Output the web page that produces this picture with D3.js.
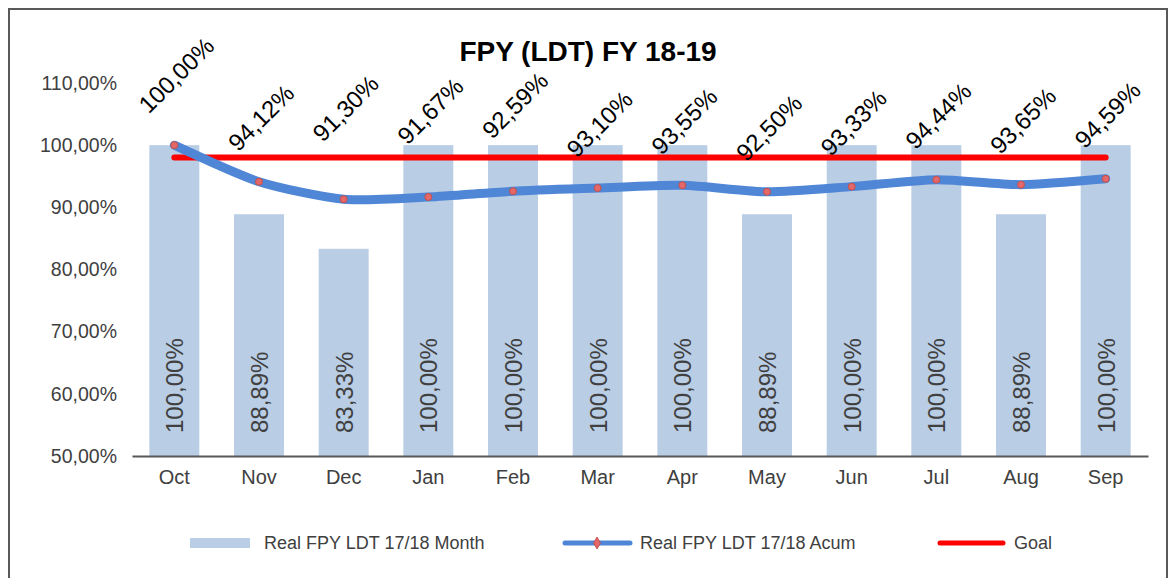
<!DOCTYPE html>
<meta charset="utf-8">
<style>
  body {margin: 0; background: #fff; font-family: "Liberation Sans", Arial, sans-serif;}
</style>
<svg id="chart"></svg>
<script src="https://cdn.jsdelivr.net/npm/d3@7/dist/d3.min.js"></script>
<script>
  /**
   * ------------------------------------------------------------------
   * data
   * ------------------------------------------------------------------
   */
  const months = ["Oct", "Nov", "Dec", "Jan", "Feb", "Mar", "Apr", "May", "Jun", "Jul", "Aug", "Sep"];
  const monthly = [100, 88.89, 83.33, 100, 100, 100, 100, 88.89, 100, 100, 88.89, 100];
  const acum = [100, 94.12, 91.30, 91.67, 92.59, 93.10, 93.55, 92.50, 93.33, 94.44, 93.65, 94.59];
  const goal = [98, 98, 98, 98, 98, 98, 98, 98, 98, 98, 98, 98];
  const yTicks = [50, 60, 70, 80, 90, 100, 110];
  const seriesNames = ["Real FPY LDT 17/18 Month", "Real FPY LDT 17/18 Acum", "Goal"];
  const title = "FPY (LDT) FY 18-19";

  /**
   * ------------------------------------------------------------------
   * definitions
   * ------------------------------------------------------------------
   */
  const width = 1169, height = 578;
  const plot = {left: 132, right: 1148, top: 83, bottom: 456};
  const barColor = "#b9cde5", lineColor = "#4f86d6", goalColor = "#ff0000";
  const fmt = v => d3.format(".2f")(v).replace(".", ",") + "%";

  const svg = d3.select("#chart").attr("width", width).attr("height", height);

  const x = d3.scaleBand().domain(months).range([plot.left, plot.right]).paddingInner(0.41).paddingOuter(0.205);
  const y = d3.scaleLinear().domain([50, 110]).range([plot.bottom, plot.top]);
  const cx = m => x(m) + x.bandwidth() / 2;

  // outer frame (bottom edge falls outside the picture)
  svg.append("path")
    .attr("d", `M9,${height + 5} V9 H1167 V${height + 5}`)
    .attr("fill", "none").attr("stroke", "#595959").attr("stroke-width", 2);

  // title
  svg.append("text")
    .attr("x", 588).attr("y", 61)
    .attr("text-anchor", "middle")
    .style("font-size", "28px").style("font-weight", "bold").style("fill", "#000")
    .text(title);

  /**------------------------------------------------------------------
   * axes
   **----------------------------------------------------------------**/
  const yAxis = svg.append("g")
    .attr("transform", `translate(${plot.left},0)`)
    .call(d3.axisLeft(y).tickValues(yTicks).tickSize(0).tickPadding(15).tickFormat(fmt));
  yAxis.select(".domain").remove();
  yAxis.selectAll("text").style("font-size", "19.5px").style("fill", "#404040")
    .style("font-family", "Liberation Sans, Arial, sans-serif");

  /**------------------------------------------------------------------
   * bars
   **----------------------------------------------------------------**/
  svg.append("g").selectAll("rect")
    .data(months).enter().append("rect")
    .attr("x", d => x(d))
    .attr("width", x.bandwidth())
    .attr("y", (d, i) => y(monthly[i]))
    .attr("height", (d, i) => plot.bottom - y(monthly[i]))
    .attr("fill", barColor);

  svg.append("g").selectAll("text")
    .data(months).enter().append("text")
    .attr("transform", d => `translate(${cx(d) + 9},${plot.bottom - 23}) rotate(-90)`)
    .style("font-size", "24px").style("fill", "#404040")
    .text((d, i) => fmt(monthly[i]));

  const xAxis = svg.append("g")
    .attr("transform", `translate(0,${plot.bottom})`)
    .call(d3.axisBottom(x).tickSize(0).tickPadding(14));
  xAxis.select(".domain").attr("stroke", "#595959").attr("stroke-width", 2);
  xAxis.selectAll("text").style("font-size", "20px").style("fill", "#404040")
    .style("font-family", "Liberation Sans, Arial, sans-serif");

  /**------------------------------------------------------------------
   * goal + accumulated line
   **----------------------------------------------------------------**/
  svg.append("path")
    .datum(goal)
    .attr("d", d3.line().x((d, i) => cx(months[i])).y(d => y(d)))
    .attr("fill", "none").attr("stroke", goalColor).attr("stroke-width", 6)
    .attr("stroke-linecap", "round");

  svg.append("path")
    .datum(acum)
    .attr("d", d3.line().x((d, i) => cx(months[i])).y(d => y(d)).curve(d3.curveCardinal.tension(0.3)))
    .attr("fill", "none").attr("stroke", lineColor).attr("stroke-width", 9)
    .attr("stroke-linecap", "round");

  svg.append("g").selectAll("circle")
    .data(acum).enter().append("circle")
    .attr("cx", (d, i) => cx(months[i]))
    .attr("cy", d => y(d))
    .attr("r", 3.5)
    .attr("fill", "#e4676a").attr("stroke", "#c0504d").attr("stroke-width", 1);

  // rotated labels above the accumulated line (Dec-Feb were dragged up a bit)
  const lift = {Dec: 27, Jan: 22, Feb: 22, Oct: 6};
  svg.append("g").selectAll("text")
    .data(acum).enter().append("text")
    .attr("transform", (d, i) => `translate(${cx(months[i]) + 2},${y(d) - 64 - (lift[months[i]] || 0)}) rotate(-45)`)
    .attr("text-anchor", "middle").attr("dy", "0.35em")
    .style("font-size", "24px").style("fill", "#000")
    .text(d => fmt(d));

  /**------------------------------------------------------------------
   * legend
   **----------------------------------------------------------------**/
  const lg = svg.append("g").attr("transform", "translate(0,543)");
  lg.append("rect").attr("x", 190).attr("y", -5).attr("width", 60).attr("height", 10).attr("fill", barColor);
  lg.append("line").attr("x1", 565).attr("x2", 630).attr("stroke", lineColor).attr("stroke-width", 5).attr("stroke-linecap", "round");
  lg.append("path").attr("d", d3.symbol(d3.symbolDiamond, 40)).attr("transform", "translate(597,0)")
    .attr("fill", "#e4676a").attr("stroke", "#c0504d");
  lg.append("line").attr("x1", 940).attr("x2", 1003).attr("stroke", goalColor).attr("stroke-width", 5).attr("stroke-linecap", "round");
  lg.selectAll("text.lbl")
    .data(seriesNames).enter().append("text")
    .attr("class", "lbl")
    .attr("x", (d, i) => [264, 640, 1014][i])
    .attr("dy", "0.35em")
    .style("font-size", "18px").style("fill", "#404040")
    .text(d => d);
</script>
